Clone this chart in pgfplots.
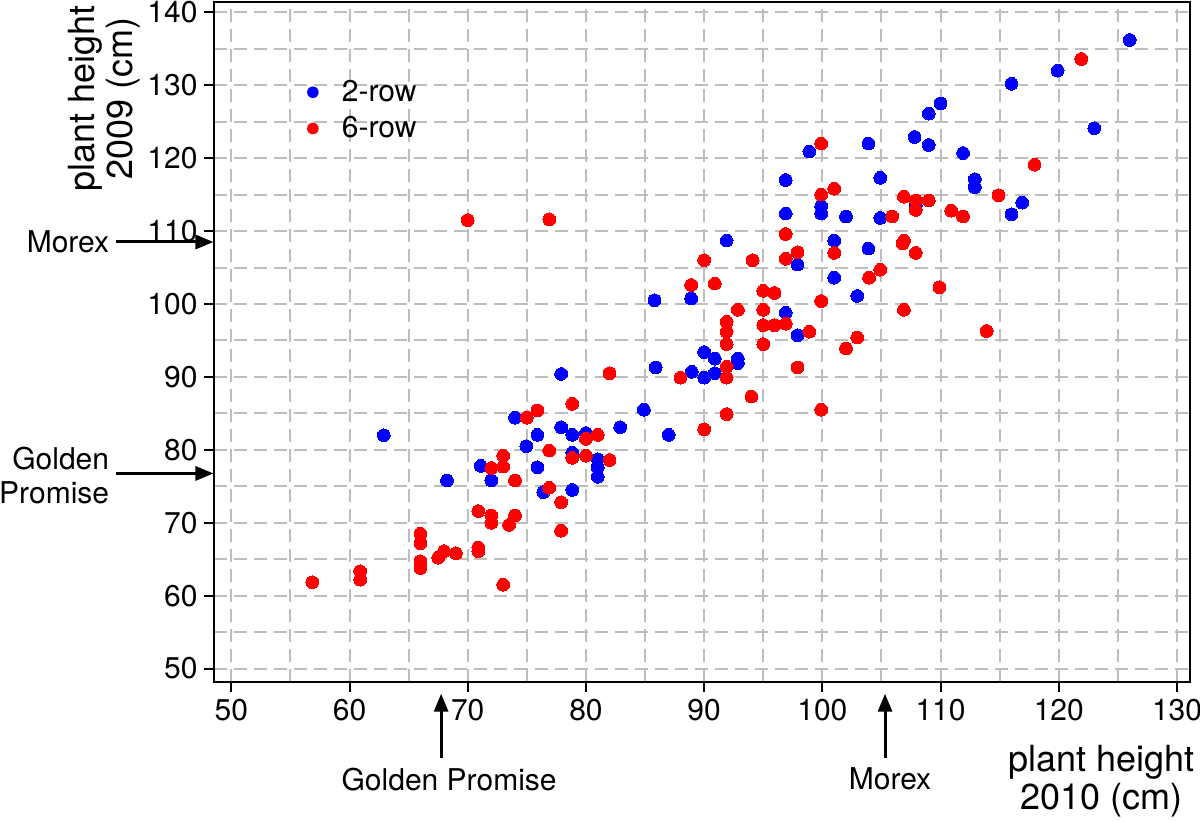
\documentclass[border=0pt]{standalone}
\usepackage{fontspec}
\setmainfont{TeX Gyre Heros}
\usepackage{pgfplots}
\pgfplotsset{compat=1.18}
\usetikzlibrary{arrows.meta}
\definecolor{gridgray}{RGB}{190,190,190}
\newcommand{\tickfont}{\fontsize{15}{17}\selectfont}
\newcommand{\labfont}{\fontsize{18}{19}\selectfont}
\begin{document}
\begin{tikzpicture}
\begin{axis}[
  scale only axis,
  width=487.75pt, height=340pt,
  xmin=48.58, xmax=131.1, ymin=48.2, ymax=141.45,
  xtick={50,60,...,130}, ytick={50,60,...,140},
  minor xtick={55,65,...,125}, minor ytick={55,65,...,135},
  grid=both,
  major grid style={gridgray, dash pattern=on 6.5pt off 3.5pt, line width=1pt},
  minor grid style={gridgray, dash pattern=on 6.5pt off 3.5pt, line width=1pt},
  tick pos=left, tick align=outside,
  major tick length=5pt, minor tick length=0pt,
  axis line style={line width=1pt},
  every tick/.style={black, line width=1pt},
  ticklabel style={font=\tickfont},
  /pgf/number format/assume math mode=true,
  clip=false,
  xlabel={plant height\\2010 (cm)},
  xlabel style={at={(axis description cs:1,0)}, anchor=north east, align=center,
    font=\labfont, inner sep=0pt, xshift=2.5pt, yshift=-31.6pt},
  ylabel={plant height\\2009 (cm)},
  ylabel style={at={(axis description cs:0,1)}, anchor=south east, align=center,
    font=\labfont, inner sep=0pt, yshift=37pt, xshift=-1.5pt},
  legend image code/.code={\fill[#1, draw=none] (0pt,0pt) circle (2.9pt);
    \path[draw=none, fill=none] (-3pt,-0.1pt) rectangle (12.5pt,0.1pt);},
  legend style={at={(axis description cs:0,1)}, anchor=north west,
    xshift=46pt, yshift=-37pt, draw=none, fill=none, inner sep=0pt,
    font=\tickfont, row sep=2pt},
  legend cell align=left,
]
\addplot[only marks, mark=*, mark size=3.2pt, color=blue, mark options={fill=blue, draw=blue, line width=0pt}]
coordinates {
(62.9,82.0) (68.25,75.8) (71.1,77.8) (72.0,75.8) (74.0,84.4) (74.95,80.5)
(75.9,82.05) (75.9,77.6) (76.4,74.2) (77.9,90.4) (77.9,83.1) (78.85,82.05)
(78.85,79.6) (78.85,74.5) (80.0,82.3) (81.0,78.7) (81.0,77.6) (81.0,76.3)
(82.9,83.1) (84.9,85.5) (85.8,100.5) (85.9,91.3) (87.0,82.05) (88.9,100.75)
(88.95,90.7) (90.0,93.4) (90.0,89.9) (90.9,92.5) (90.9,90.5) (91.9,108.7)
(92.85,92.5) (92.85,91.9) (96.9,117.0) (96.9,112.4) (96.9,98.8) (97.9,105.4)
(97.9,95.7) (98.9,120.9) (99.9,113.4) (99.9,112.4) (101.0,108.7) (101.0,103.6)
(102.0,112.0) (102.95,101.1) (103.9,122.0) (103.9,107.6) (104.9,117.3) (104.9,111.8)
(107.8,122.9) (107.9,113.5) (109.0,126.1) (109.0,121.8) (110.0,127.5) (111.9,120.7)
(112.9,117.1) (112.9,116.0) (116.0,130.2) (116.0,112.3) (116.9,113.9) (119.9,132.0)
(123.0,124.1) (126.0,136.2)
};
\addlegendentry{2-row}
\addplot[only marks, mark=*, mark size=3.2pt, color=red, mark options={fill=red, draw=red, line width=0pt}]
coordinates {
(56.85,61.85) (60.9,63.35) (60.9,62.2) (66.0,68.5) (66.0,67.2) (66.0,64.7)
(66.0,63.8) (67.5,65.2) (68.0,66.1) (69.0,65.8) (70.0,111.5) (70.9,71.6)
(70.9,66.6) (70.9,66.1) (72.0,77.5) (72.0,71.0) (72.0,70.0) (73.0,79.2)
(73.0,77.7) (73.0,61.5) (73.5,69.7) (74.0,75.8) (74.0,71.0) (75.0,84.4)
(75.9,85.4) (76.9,111.6) (76.9,79.9) (76.9,74.8) (77.9,72.8) (77.9,68.9)
(78.85,86.3) (78.85,78.9) (80.0,81.5) (80.0,79.2) (81.0,82.05) (82.0,90.5)
(82.0,78.6) (88.0,89.9) (88.9,102.6) (90.0,106.0) (90.0,82.8) (90.9,102.8)
(91.9,97.55) (91.9,96.2) (91.9,94.5) (91.9,91.4) (91.9,89.9) (91.9,84.9)
(92.85,99.2) (94.0,87.3) (94.1,106.0) (95.0,101.8) (95.0,99.2) (95.0,97.1)
(95.0,94.5) (95.95,101.5) (95.95,97.1) (96.9,109.6) (96.9,106.2) (96.9,97.3)
(97.9,107.1) (97.9,91.3) (98.9,96.2) (99.9,122.0) (99.9,115.0) (99.9,100.4)
(99.9,85.5) (101.0,115.8) (101.0,107.0) (102.0,93.9) (102.95,95.4) (103.95,103.6)
(104.9,104.7) (105.9,112.0) (106.9,114.7) (106.9,108.7) (106.8,108.3) (106.9,99.2)
(107.9,114.2) (107.9,112.9) (107.9,107.0) (109.0,114.2) (109.9,102.3) (110.9,112.8)
(111.9,112.0) (113.9,96.3) (114.9,114.9) (117.95,119.1) (121.9,133.6)
};
\addlegendentry{6-row}
% annotations
\draw[line width=1.5pt, -{Triangle[length=9pt,width=7pt]}]
  ([xshift=-49pt]axis cs:48.58,108.5) -- ([xshift=-0.5pt]axis cs:48.58,108.5);
\node[anchor=east, inner sep=0pt, font=\tickfont] at ([xshift=-52.5pt]axis cs:48.58,108.5) {Morex};
\draw[line width=1.5pt, -{Triangle[length=9pt,width=7pt]}]
  ([xshift=-49pt]axis cs:48.58,76.76) -- ([xshift=-0.5pt]axis cs:48.58,76.76);
\node[anchor=east, inner sep=0pt, align=right, font=\tickfont] at ([xshift=-52.5pt,yshift=-1pt]axis cs:48.58,76.76) {Golden\\Promise};
\draw[line width=1.5pt, -{Triangle[length=9pt,width=7pt]}]
  ([yshift=-38pt]axis cs:67.75,48.2) -- ([yshift=-6pt]axis cs:67.75,48.2);
\node[anchor=north, inner sep=0pt, font=\tickfont] at ([xshift=4pt,yshift=-43pt]axis cs:67.75,48.2) {Golden Promise};
\draw[line width=1.5pt, -{Triangle[length=9pt,width=7pt]}]
  ([yshift=-38pt]axis cs:105.3,48.2) -- ([yshift=-6pt]axis cs:105.3,48.2);
\node[anchor=north, inner sep=0pt, font=\tickfont] at ([xshift=2.5pt,yshift=-43pt]axis cs:105.3,48.2) {Morex};
\end{axis}
\pgfresetboundingbox
\useasboundingbox (-107.25pt,-69.65pt) rectangle (492.75pt,340.85pt);
\end{tikzpicture}
\end{document}
